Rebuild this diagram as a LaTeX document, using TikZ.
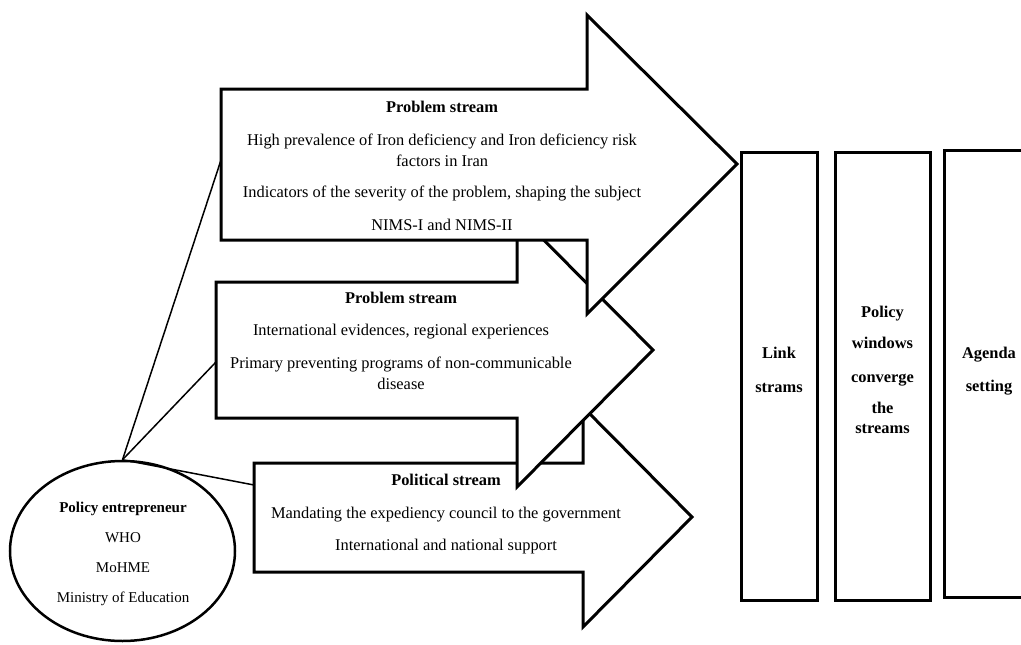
\documentclass[tikz,border=0pt]{standalone}
\usepackage{fontspec}
\setmainfont{Liberation Serif}
\usetikzlibrary{shapes.geometric}
\tikzset{
  bigarrow/.style={draw=black, fill=white, line width=3pt, line join=miter},
  txt/.style={inner sep=0pt, anchor=base, align=center, font=\fontsize{16.4}{21}\selectfont},
  etxt/.style={inner sep=0pt, anchor=base, align=center, font=\fontsize{15}{19}\selectfont},
  btxt/.style={txt, font=\fontsize{16.4}{20}\selectfont\bfseries},
  stagebox/.style={draw=black, line width=3pt, fill=white, rectangle, inner sep=0pt},
  link/.style={draw=black, line width=1.5pt}
}
\begin{document}
\begin{tikzpicture}[x=1pt, y=-1pt]
\useasboundingbox (0,0) rectangle (1021,645);
\clip (0,0) rectangle (1021,645);
% named anchor points on the arrows
\coordinate (a1in) at (221,160);
\coordinate (a2in) at (216,362);
\coordinate (a3in) at (254,485);
% policy entrepreneur ellipse
\node[draw=black, line width=2.5pt, ellipse, minimum width=225pt, minimum height=180pt, inner sep=0pt] (pe) at (122.5,551) {};
% connectors
\draw[link] (pe.north) -- (a1in);
\draw[link] (pe.north) -- (a2in);
\draw[link] (pe.north) -- (a3in);
% political stream arrow
\draw[bigarrow] (254,463) -- (583,463) -- (583,407) -- (692,517) -- (583,627) -- (583,572) -- (254,572) -- cycle;
\node[btxt] (t3h) at (446,485) {Political stream};
\node[txt] (t3a) at (446,518) {Mandating the expediency council to the government};
\node[txt] (t3b) at (446,550) {International and national support};
% second problem stream arrow
\draw[bigarrow] (216,282) -- (517,282) -- (517,213) -- (653,350) -- (517,487) -- (517,418) -- (216,418) -- cycle;
\node[btxt] (t2h) at (401,303) {Problem stream};
\node[txt] (t2a) at (401,335) {International evidences, regional experiences};
\node[txt] (t2b) at (401,389) {Primary preventing programs of non-communicable\\disease};
% first problem stream arrow
\draw[bigarrow] (221,89) -- (587,89) -- (587,15) -- (737,164) -- (587,314) -- (587,240) -- (221,240) -- cycle;
\node[btxt] (t1h) at (442,112) {Problem stream};
\node[txt] (t1a) at (442,166) {High prevalence of Iron deficiency and Iron deficiency risk\\factors in Iran};
\node[txt] (t1b) at (442,197) {Indicators of the severity of the problem, shaping the subject};
\node[txt] (t1c) at (442,230) {NIMS-I and NIMS-II};
% ellipse text
\node[etxt, font=\fontsize{15}{19}\selectfont\bfseries] (pe1) at (123,512) {Policy entrepreneur};
\node[etxt] (pe2) at (123,542) {WHO};
\node[etxt] (pe3) at (123,572) {MoHME};
\node[etxt] (pe4) at (123,602) {Ministry of Education};
% stage boxes
\node[stagebox, minimum width=76pt, minimum height=448pt] (b1) at (779,376) {};
\node[stagebox, minimum width=95pt, minimum height=448pt] (b2) at (882.5,376) {};
\node[stagebox, minimum width=90pt, minimum height=447pt] (b3) at (989,373.5) {};
\node[btxt] (b1a) at (779,358) {Link};
\node[btxt] (b1b) at (779,392) {strams};
\node[btxt] (b2a) at (882.5,317) {Policy};
\node[btxt] (b2b) at (882.5,348) {windows};
\node[btxt] (b2c) at (882.5,382) {converge};
\node[btxt] (b2d) at (882.5,433) {the\\streams};
\node[btxt] (b3a) at (989,358) {Agenda};
\node[btxt] (b3b) at (989,391) {setting};
\end{tikzpicture}
\end{document}
